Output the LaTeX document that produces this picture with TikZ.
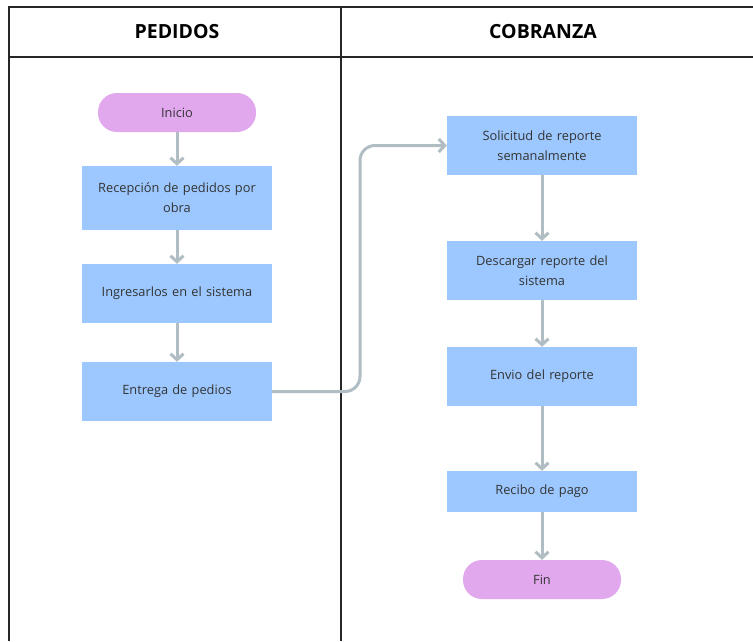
\documentclass[tikz,border=0pt]{standalone}
\usepackage{fontspec}
\setmainfont{Open Sans}
\usetikzlibrary{arrows.meta}
\definecolor{boxblue}{HTML}{9CC8FF}
\definecolor{pinkterm}{HTML}{E2A8EE}
\definecolor{arrowgray}{HTML}{B0BDC3}
\definecolor{txt}{HTML}{333333}
\tikzset{
  proc/.style={fill=boxblue, draw=none, minimum width=190pt, text width=186pt, align=center, font=\fontsize{12.8}{20}\selectfont, text=txt, inner sep=0pt},
  term/.style={fill=pinkterm, draw=none, rounded corners=19pt, minimum width=158pt, minimum height=39pt, align=center, font=\fontsize{12.8}{20}\selectfont, text=txt},
  conn/.style={draw=arrowgray, line width=3pt, -{Straight Barb[length=6pt,width=13pt]}},
  frame/.style={draw=black!85, line width=1.3pt},
  hdr/.style={font=\fontsize{19.5}{22}\selectfont\bfseries, text=black}
}
\begin{document}
\begin{tikzpicture}[x=1pt,y=-1pt]
\useasboundingbox (0,0) rectangle (753,641);
\fill[white] (0,0) rectangle (753,641);
% frame
\draw[frame] (9,641) -- (9,7) -- (753,7);
\draw[frame] (9,57) -- (753,57);
\draw[frame] (341,7) -- (341,641);
\node[hdr] (h1) at (177,32) {PEDIDOS};
\node[hdr] (h2) at (543,32) {COBRANZA};
% nodes
\node[term] (inicio) at (177,112.5) {Inicio};
\node[proc, minimum height=64pt] (recep) at (177,198) {Recepción de pedidos por\\obra};
\node[proc, minimum height=59pt] (ingr) at (177,293.5) {Ingresarlos en el sistema};
\node[proc, minimum height=59pt] (entr) at (177,391.5) {Entrega de pedios};
\node[proc, minimum height=59pt] (soli) at (542,145.5) {Solicitud de reporte\\semanalmente};
\node[proc, minimum height=59pt] (desc) at (542,270.5) {Descargar reporte del\\sistema};
\node[proc, minimum height=59pt] (envio) at (542,376.5) {Envio del reporte};
\node[proc, minimum height=41pt] (recibo) at (542,491.5) {Recibo de pago};
\node[term] (fin) at (542,579.5) {Fin};
% connectors
\draw[conn] (inicio) -- (recep);
\draw[conn] (recep) -- (ingr);
\draw[conn] (ingr) -- (entr);
\draw[conn, rounded corners=15pt] (entr.east) -- (360,391.5) -- (360,145.5) -- (soli.west);
\draw[conn] (soli) -- (desc);
\draw[conn] (desc) -- (envio);
\draw[conn] (envio) -- (recibo);
\draw[conn] (recibo) -- (fin);
\end{tikzpicture}
\end{document}
